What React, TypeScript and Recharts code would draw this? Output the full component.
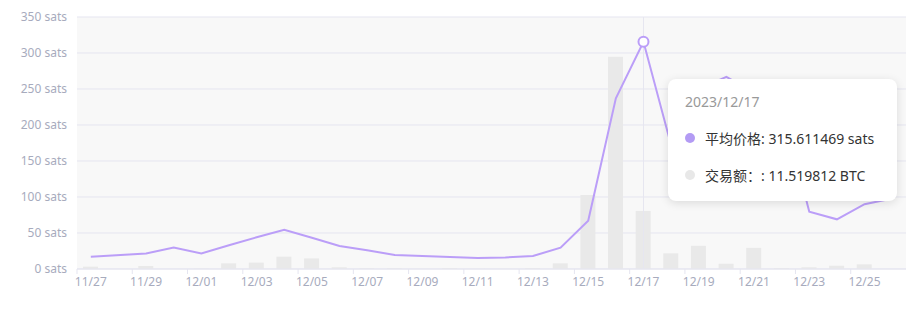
import React from "react"
import { ComposedChart, Bar, Line, XAxis, YAxis, CartesianGrid, Tooltip } from "recharts"

const year = "2023"

const dates = [
  "11/27", "11/28", "11/29", "11/30", "12/01", "12/02", "12/03", "12/04", "12/05", "12/06",
  "12/07", "12/08", "12/09", "12/10", "12/11", "12/12", "12/13", "12/14", "12/15", "12/16",
  "12/17", "12/18", "12/19", "12/20", "12/21", "12/22", "12/23", "12/24", "12/25", "12/26",
]

// 平均价格 (sats)
const avgPrice = [
  17, null, 21.5, 30, 21.7, 33, 44, 54.6, 43.5, 32,
  26, 19.5, 18, 16.5, 15.3, 16, 18, 29.6, 67, 237,
  315.611469, 172, 250, 267, 245, 228, 79.6, 69, 90, 98,
]

// 交易额 (BTC)
const volume = [
  0.46, null, 0.6, 0, 0.1, 1.13, 1.26, 2.45, 2.1, 0.35,
  0.15, 0.15, 0.05, 0.2, 0.05, 0.05, 0.2, 1.13, 14.7, 42.1,
  11.519812, 3.1, 4.6, 1.05, 4.2, 0.2, 0.35, 0.65, 0.93, 0,
]

const priceTicks = [0, 50, 100, 150, 200, 250, 300, 350]

const data = dates.map((d, i) => ({ date: d, price: avgPrice[i], volume: volume[i] }))

const LINE_COLOR = "#bb9ef8"
const DOT_COLOR = "#b39bf4"
const BAR_COLOR = "#e9e9e9"
const AXIS_TEXT = "#a7abbd"
const GRID_COLOR = "#e5e5f0"

const PLOT_W = 829
const band = PLOT_W / dates.length

function DateTick(props: any) {
  const { x, y, payload, index } = props
  const left = x - band / 2
  return (
    <g>
      <line x1={left} x2={left} y1={y - 5} y2={y} stroke={GRID_COLOR} />
      {index === dates.length - 2 && (
        <line x1={left + band * 2} x2={left + band * 2} y1={y - 5} y2={y} stroke={GRID_COLOR} />
      )}
      <text x={x} y={y + 12} textAnchor="middle" fill={AXIS_TEXT} fontSize={12}>
        {payload.value}
      </text>
    </g>
  )
}

function InfoBox({ payload, label }: any) {
  if (!payload || !payload.length) return null
  const price = payload.find((p: any) => p.dataKey === "price")
  const vol = payload.find((p: any) => p.dataKey === "volume")
  const row = { display: "flex", alignItems: "center", height: 20, fontSize: 14, color: "#333" }
  const dot = (c: string) => ({
    width: 10, height: 10, borderRadius: 5, background: c, marginRight: 10, flex: "none",
  })
  return (
    <div
      style={{
        width: 229,
        height: 122,
        boxSizing: "border-box",
        background: "#fff",
        borderRadius: 8,
        boxShadow: "0 2px 10px rgba(0,0,0,0.12)",
        padding: "13px 16px 0 17px",
        whiteSpace: "nowrap",
      }}
    >
      <div style={{ fontSize: 14, color: "#999", height: 20, lineHeight: "20px" }}>
        {year}/{label}
      </div>
      <div style={{ ...row, marginTop: 16 }}>
        <span style={dot(DOT_COLOR)} />
        平均价格: {price?.value} sats
      </div>
      <div style={{ ...row, marginTop: 17 }}>
        <span style={dot("#e8e8e8")} />
        交易额：: {vol?.value} BTC
      </div>
    </div>
  )
}

export default function App() {
  return (
    <div style={{ width: 914, height: 305, fontFamily: '"Noto Sans", "Noto Sans CJK SC", sans-serif' }}>
      <ComposedChart
        width={914}
        height={305}
        data={data}
        margin={{ top: 9, right: 16, bottom: 14, left: 0 }}
      >
        <CartesianGrid
          vertical={false}
          stroke={GRID_COLOR}
          fill="#f8f8f8"
          yAxisId="price"
        />
        <XAxis
          dataKey="date"
          interval={1}
          tickLine={false}
          tickSize={5}
          tickMargin={0}
          height={30}
          axisLine={{ stroke: GRID_COLOR }}
          tick={<DateTick />}
        />
        <YAxis
          yAxisId="price"
          width={69}
          domain={[0, 350]}
          ticks={priceTicks}
          tickFormatter={(v: number) => `${v} sats`}
          axisLine={false}
          tickLine={false}
          tickSize={0}
          tickMargin={10}
          tick={{ fill: AXIS_TEXT, fontSize: 12 }}
        />
        <YAxis yAxisId="vol" orientation="right" domain={[0, 50]} hide />
        <Tooltip
          active
          defaultIndex={20}
          position={{ x: 660, y: 71 }}
          cursor={{ stroke: "#e6e6f0", strokeWidth: 1 }}
          wrapperStyle={{ outline: "none" }}
          isAnimationActive={false}
          content={<InfoBox />}
        />
        <Bar
          yAxisId="vol"
          dataKey="volume"
          name="交易额"
          fill={BAR_COLOR}
          barSize={15}
          isAnimationActive={false}
        />
        <Line
          yAxisId="price"
          type="linear"
          dataKey="price"
          name="平均价格"
          stroke={LINE_COLOR}
          strokeWidth={2}
          dot={false}
          activeDot={{ r: 5, fill: "#fff", stroke: LINE_COLOR, strokeWidth: 2 }}
          connectNulls
          isAnimationActive={false}
        />
      </ComposedChart>
    </div>
  )
}
